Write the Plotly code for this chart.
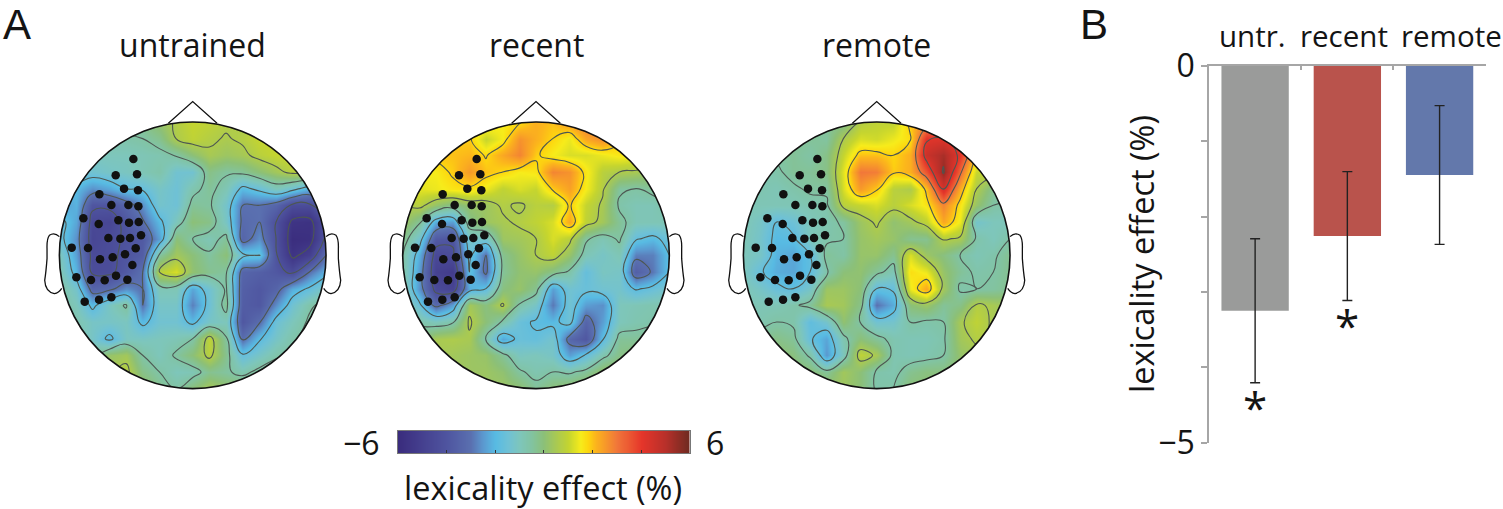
import numpy as np
import plotly.graph_objects as go

W, H = 1503, 509
FONT = "Open Sans"
INK = "#141414"

# ---- data -------------------------------------------------------------
grid_nodes = [-400, -350, -300, -250, -200, -150, -100, -50, 0, 50, 100, 150, 200, 250, 300, 350, 400]

untrained = [
 [-.3,-.3,-.3,-.3,-.3,-.3,.2,.7,1.0,.9,.7,.6,.6,.6,.6,.6,.6],
 [-.7,-.7,-.7,-.7,-.7,-.6,-.3,.6,.9,.7,.55,.7,1,1,1,1,1],
 [-1,-1,-1,-1,-1,-.9,-.8,-.55,0,.5,.3,.45,.8,1,1,1,1],
 [-1.4,-1.4,-1.4,-1.2,-1.1,-.9,-.7,-1.4,-1.4,-.2,-.5,-.4,0,.4,.8,.8,.8],
 [-2,-2,-2.6,-2.3,-1.8,-1.7,-1.2,-1.5,-.8,-.4,-.9,-2,-1.6,-1,-1.5,-2.2,-2.2],
 [-2.5,-2.1,-4,-4,-3.4,-2.6,-1.3,-1.5,-.4,-.5,-1.3,-3,-3,-3.4,-4.4,-4.4,-3.2],
 [-1.5,-2.3,-4.6,-4.7,-3.9,-3.1,-2,-1,0,-.2,-1.2,-3.2,-3,-4.2,-5.6,-5.7,-4.2],
 [-1.5,-2.6,-4.7,-4.4,-4.1,-3.8,-2.4,0,-.6,-.9,-.4,-3.4,-2.6,-4.2,-5.9,-5.8,-4],
 [-1,-2.4,-4.5,-4.4,-4,-3.7,-.5,.4,0,-.5,0,-1.6,-1.7,-4.1,-5.6,-5,-3],
 [-.8,-2.1,-4.4,-4.4,-3.8,-3,.8,1.2,.1,-.3,-.5,-3.4,-3.6,-3.9,-4.4,-3,-2.1],
 [-.6,-1.3,-3.4,-3.2,-2.6,-3,-.9,-.9,-2.3,-1.4,-.5,-3.6,-3.9,-3.4,-2.2,-1.7,-1],
 [-.5,-1,-2,-1.1,-.5,-3,-1.2,-1.2,-2.8,-1.5,-.3,-3.7,-3.9,-2.6,-1.4,-.7,-.4],
 [-.5,-.8,-1.2,-1.2,-1.1,-2,-1.4,-1.4,-2,-1.2,-1,-3.9,-3.1,-1.5,-1,-.5,-.3],
 [-.5,-.8,-1.2,-2,-1.1,-1.1,-1,-.9,-.6,.9,-.5,-3.1,-1.9,-1.2,-.7,-.4,-.3],
 [-.5,-.5,-.6,.2,.4,-.6,-1,-.5,0,.8,-.3,-1.7,-1.2,-.7,-.5,-.4,-.3],
 [.5,.5,.5,.5,.8,-.2,-.6,-1,-.9,-.3,-.5,-.8,-.4,-.2,-.2,-.2,-.2],
 [.6,.6,.6,.6,.6,.3,-.3,-.6,0,.5,.2,.1,0,0,0,0,0],
]

recent = [
 [1.8,1.8,1.8,1.8,1.8,1.8,1.5,1.7,2.2,2,2.5,3,2.6,2,2,2,2],
 [1.9,1.9,1.9,1.9,1.9,1,1.5,2.6,2.2,1.8,1.4,2.3,2.7,1.9,1.5,1.5,1.5],
 [2,2,2,2,2.1,1.75,2.3,2.8,1.9,1.5,1.2,1.2,1.4,1.6,1.5,1.2,1.2],
 [1.5,1.5,1.5,1.9,2.5,2,1.8,1.5,1.6,2.8,2.6,1.6,.8,.6,.5,.3,.3],
 [1.3,1.3,1.4,1.6,1.7,1.4,.9,1.2,1,1.9,2.4,1.5,.7,-.5,-.6,-.4,-.4],
 [.6,.8,.2,-.2,.2,.3,.7,.5,.8,.7,1.9,1,.5,-.7,-.9,-.9,-.6],
 [.4,-.4,-2.2,-2.4,-.2,.3,.5,.7,.9,1.2,2.3,.9,.4,-.4,-.9,-.9,-.9],
 [-.2,-1.4,-3.8,-4,-1.2,-1.3,.3,.4,.6,1.2,.8,-.5,-.9,-.5,-1.7,-2,-1.5],
 [-.6,-2.2,-4.6,-4.4,-1.6,-3,-.3,.2,.6,.9,.2,-.9,-1.2,-.9,-2.8,-2.8,-1.8],
 [-.6,-2.5,-4.9,-5.2,-1.8,-3.2,-.4,.1,.2,-.2,-.7,-1.7,-1.1,-1.2,-3.6,-2.9,-1.8],
 [-.6,-2.6,-4.5,-4.8,-2.2,-1.8,-.1,.2,-.3,-2.4,-1.4,-1.6,-1.4,-1.3,-1.9,-1.6,-1.2],
 [-.6,-1.6,-3.3,-2.4,.4,-.1,.7,-.7,-1.2,-2.9,-1.4,-2.4,-2.6,-1,-.9,-.8,-.8],
 [-.5,-.7,-1,-.7,.7,0,-.7,-1.6,-1.9,-2,-1.5,-3.4,-2.4,-1,-.8,-.7,-.7],
 [-.3,-.3,.5,.6,.5,-.7,-2.3,-1.6,-1.7,-1.3,-3.3,-3.9,-1.9,-.4,-.4,-.3,-.3],
 [.5,.5,.5,.4,.3,.2,-.4,-1.1,-1,-1.2,-2.4,-1.7,-.8,-.2,0,0,0],
 [.4,.4,.4,.4,.3,.3,.1,-.5,-.8,-.6,-.7,-.4,.2,.3,.3,.3,.3],
 [.3,.3,.3,.3,.3,.3,.3,.1,-.4,0,.2,.3,.3,.3,.3,.3,.3],
]

remote = [
 [-.4,-.4,-.4,-.4,-.4,-.4,-.3,.7,.9,.9,2,2.5,3,3,3,3,3],
 [-.4,-.4,-.4,-.4,-.4,-.5,.6,1.2,1.1,1.4,1.7,4.1,4.2,3.5,3,3,3],
 [-.5,-.5,-.5,-.4,-.6,-.2,1,2,2,1.8,2.2,4.6,5.2,4,2,2,2],
 [-.8,-.8,-.7,-.4,-.4,-.2,1.3,3,2.9,1.9,2.2,3.5,5.5,3.2,1,1,1],
 [-.8,-.8,-.9,-.7,-.5,-.5,1.2,2.5,1.9,.8,.6,2,4.4,2.2,.6,-.3,-.3],
 [-.9,-.9,-.9,-.9,-.8,-.7,.8,1,1.2,.8,1.2,1.6,2.8,1.6,.2,-.6,-.7],
 [-.9,-1.2,-1.8,-1.5,-1,-.8,-.5,.3,.7,.1,.4,.9,2.3,1.4,-1.3,-1,-1],
 [-.9,-1.3,-2,-1.9,-1,-.7,-.6,.2,.4,.2,-.3,-.3,.7,.5,-.7,-1,-.6],
 [-1,-1.2,-2.1,-2.3,-1.8,-.4,-.6,.2,.2,-.3,1.2,.3,-.1,-.6,-.9,-.7,-.3],
 [-1,-1.7,-2.2,-2.3,-1.8,-.7,0,.1,-.4,-.9,1.7,1.4,.2,-.4,-.7,-.6,-.3],
 [-.9,-1.2,-1.6,-1.8,-1.2,.3,.3,0,-1.8,-1.7,1.4,2.3,.4,-.7,-.6,-.5,-.3],
 [-.9,-.9,-.9,-.7,-.4,.5,.4,-.2,-3,-2.2,0,.3,-.4,-.2,.7,.5,.3],
 [-.8,-.8,-.6,-.7,-1.8,-1.3,.1,-.6,-1.4,-1.3,-.6,-.7,-.6,.5,.9,.5,.3],
 [-.3,-.3,-.2,-.4,-1.7,-2.3,-.8,0,-.4,-.8,-.9,-.9,-.7,.4,.7,.5,.3],
 [.1,.1,.1,-.1,-.7,-2.5,-1,.9,.5,-.8,-.9,-.8,-.6,.2,.4,.4,.3],
 [.1,.1,.1,.1,0,-.4,.4,0,-.7,-.8,-.3,-.1,-.1,.1,.1,.1,.1],
 [.3,.3,.3,.3,.3,.3,.3,0,-.7,-.6,0,.1,.1,.1,.1,.1,.1],
]

electrode_x = [-178,-231,-167,-206,-164,-280,-244,-193,-163,-328,-223,-282,-191,-162,
               -253,-217,-188,-155,-363,-314,-171,-203,-278,-240,-181,-349,-305,-264,
               -230,-196,-324,-281,-244]
electrode_y = [-289,-240,-243,-200,-195,-183,-151,-151,-147,-111,-105,-94,-98,-100,
               -52,-50,-52,-60,-23,-22,-21,-3,12,6,29,66,74,75,61,73,139,133,126]

map_names = ["untrained", "recent", "remote"]
map_values = [untrained, recent, remote]
map_center_px = [192.7, 536.0, 876.7]

bar_labels = ["untr.", "recent", "remote"]
bar_values = [-3.25, -2.26, -1.45]
bar_errors = [0.955, 0.855, 0.92]
bar_colors = ["#9a9b9a", "#b9534c", "#6378ab"]
bar_label_px = [1252, 1344, 1451]
star_bars = ["untr.", "recent"]
bar_ticks = [0, -1, -2, -3, -4, -5]
bar_tick_text = ["0", "", "", "", "", "\u22125"]
scale_ticks = [-6, -4, -2, 0, 2, 4, 6]

colorscale = [
 [-6, "#3a2c7d"], [-5, "#45408f"], [-4, "#4f55a0"], [-3, "#5a70b0"], [-2.5, "#5b98cf"],
 [-2, "#58bbe3"], [-1.5, "#6fc1d6"], [-1, "#7ec6bb"], [-.5, "#82c3a0"], [0, "#8cc078"],
 [.5, "#a8c954"], [1, "#c5d52f"], [1.5, "#f7ec1b"], [1.8, "#fdd70f"], [2.1, "#fcb61c"],
 [3, "#f1773a"], [4, "#e5352a"], [5, "#b7302a"], [6, "#6d2a20"],
]
cs = [[(v + 6) / 12, c] for v, c in colorscale]

# ---- pixel helpers ---------------------------------------------------
def px(x): return x / W
def py(y): return 1 - y / H

fig = go.Figure()
ROW_TOP, ROW_BOT = 95.3, 415.3
K = 221
mask = (f"M-480,-480 H480 V480 H-480 Z M-400,0 C-400,{-K} {-K},-400 0,-400 "
        f"C{K},-400 400,{-K} 400,0 C400,{K} {K},400 0,400 C{-K},400 -400,{K} -400,0 Z")
nose = "M-73,-396 L0,-461 L73,-396"
def ear(s):
    return (f"M{s*400},-56 Q{s*415},-70 {s*430},-60 Q{s*438},-50 {s*437},-20 L{s*437},10 "
            f"Q{s*440},50 {s*444},75 Q{s*442},110 {s*415},115 Q{s*402},113 {s*393},99")

shapes, annotations = [], []
layout_axes = {}
for i, (name, vals, cx) in enumerate(zip(map_names, map_values, map_center_px), start=1):
    xa, ya = f"x{i}", f"y{i}"
    fig.add_trace(go.Contour(
        x=grid_nodes, y=grid_nodes, z=vals, xaxis=xa, yaxis=ya,
        colorscale=cs, zmin=-6, zmax=6, showscale=False,
        contours=dict(coloring="heatmap", start=-5.4, end=5.4, size=1.2),
        line=dict(color="#4d5752", width=1.1, smoothing=1.3), hoverinfo="skip"))
    fig.add_trace(go.Scatter(
        x=electrode_x, y=electrode_y, mode="markers", xaxis=xa, yaxis=ya,
        marker=dict(color="#111111", size=8.5), hoverinfo="skip", showlegend=False))
    layout_axes[f"xaxis{i}"] = dict(domain=[px(cx - 160), px(cx + 160)], range=[-480, 480],
                                    visible=False, anchor=ya, fixedrange=True, automargin=False)
    layout_axes[f"yaxis{i}"] = dict(domain=[py(ROW_BOT), py(ROW_TOP)], range=[480, -480],
                                    visible=False, anchor=xa, fixedrange=True, automargin=False)
    xr, yr = xa, ya
    shapes.append(dict(type="path", path=mask, xref=xr, yref=yr, fillcolor="white",
                       line=dict(width=0), layer="above"))
    shapes.append(dict(type="circle", x0=-400, x1=400, y0=-400, y1=400, xref=xr, yref=yr,
                       line=dict(color="#111111", width=1.6), layer="above"))
    for p in (nose, ear(-1), ear(1)):
        shapes.append(dict(type="path", path=p, xref=xr, yref=yr,
                           line=dict(color="#111111", width=1.3), layer="above"))
    annotations.append(dict(text=name, x=px(cx), y=py(44), xref="paper", yref="paper",
                            showarrow=False, xanchor="center", yanchor="middle",
                            font=dict(family=FONT, size=32, color=INK)))

# colour scale strip
scale_z = np.linspace(-6, 6, 97)
fig.add_trace(go.Heatmap(x=scale_z, y=[0, 1], z=[scale_z, scale_z], xaxis="x4", yaxis="y4",
                         colorscale=cs, zmin=-6, zmax=6, showscale=False, zsmooth="best",
                         hoverinfo="skip"))
layout_axes["xaxis4"] = dict(domain=[px(397.5), px(690)], range=[-6, 6], anchor="y4",
                             tickvals=scale_ticks, showticklabels=False, ticks="inside",
                             ticklen=3, tickcolor="#333", showline=True, linecolor="#777",
                             mirror=True, showgrid=False, zeroline=False, fixedrange=True,
                             automargin=False)
layout_axes["yaxis4"] = dict(domain=[py(453.3), py(430.8)], range=[0, 1], anchor="x4",
                             showticklabels=False, ticks="", showline=True, linecolor="#777",
                             mirror=True, showgrid=False, zeroline=False, fixedrange=True,
                             automargin=False)

# bar panel
fig.add_trace(go.Bar(x=bar_labels, y=bar_values, xaxis="x5", yaxis="y5", width=0.73,
                     marker=dict(color=bar_colors, line=dict(width=0)),
                     error_y=dict(type="data", array=bar_errors, color="#222222",
                                  thickness=1.4, width=5),
                     hoverinfo="skip", showlegend=False))
GREY = "#a6a6a6"
layout_axes["xaxis5"] = dict(domain=[px(1209), px(1485.7)], type="category",
                             categoryorder="array", categoryarray=bar_labels, range=[-.5, 2.5],
                             side="top", anchor="y5", tickson="boundaries", ticks="inside",
                             ticklen=5, tickwidth=1.5, tickcolor=GREY, showticklabels=False,
                             showline=True, linecolor=GREY, linewidth=1.5, showgrid=False,
                             zeroline=False, fixedrange=True, automargin=False)
layout_axes["yaxis5"] = dict(domain=[py(442.7), py(65.7)], range=[-5, 0], anchor="x5",
                             tickvals=bar_ticks, ticktext=bar_tick_text, ticks="outside",
                             ticklen=6, tickwidth=1.5, tickcolor=GREY, showline=True,
                             linecolor=GREY, linewidth=1.5, showgrid=False, zeroline=False,
                             tickfont=dict(family=FONT, size=32, color=INK), fixedrange=True,
                             automargin=False)

for lab, xp in zip(bar_labels, bar_label_px):
    annotations.append(dict(text=lab, x=px(xp), y=py(35), xref="paper", yref="paper",
                            showarrow=False, xanchor="center", yanchor="middle",
                            font=dict(family=FONT, size=29.5, color=INK)))
for lab, val, err in zip(bar_labels, bar_values, bar_errors):
    if lab in star_bars:
        annotations.append(dict(text="*", x=lab, y=val - err, xref="x5", yref="y5",
                                showarrow=False, xanchor="center", yanchor="top", yshift=8,
                                font=dict(family=FONT, size=44, color=INK)))

def label(text, x, y, size, **kw):
    annotations.append(dict(text=text, x=px(x), y=py(y), xref="paper", yref="paper",
                            showarrow=False, xanchor="center", yanchor="middle",
                            font=dict(family=kw.pop("family", FONT), size=size, color=INK), **kw))

label("lexicality effect (%)", 543, 487, 32.5)
label("lexicality effect (%)", 1141, 254, 32.5, textangle=-90)
label("\u22126", 361, 442, 32)
label("6", 715, 442, 32)
label("A", 17, 25, 42, family="Liberation Sans")
label("B", 1094, 25, 42, family="Liberation Sans")

fig.update_layout(width=W, height=H, margin=dict(l=0, r=0, t=0, b=0, pad=0), autosize=False,
                  paper_bgcolor="white", plot_bgcolor="white", showlegend=False,
                  shapes=shapes, annotations=annotations, **layout_axes)
fig.write_html("out.html", config=dict(displayModeBar=False),
               post_script="document.body.style.margin='0';")
